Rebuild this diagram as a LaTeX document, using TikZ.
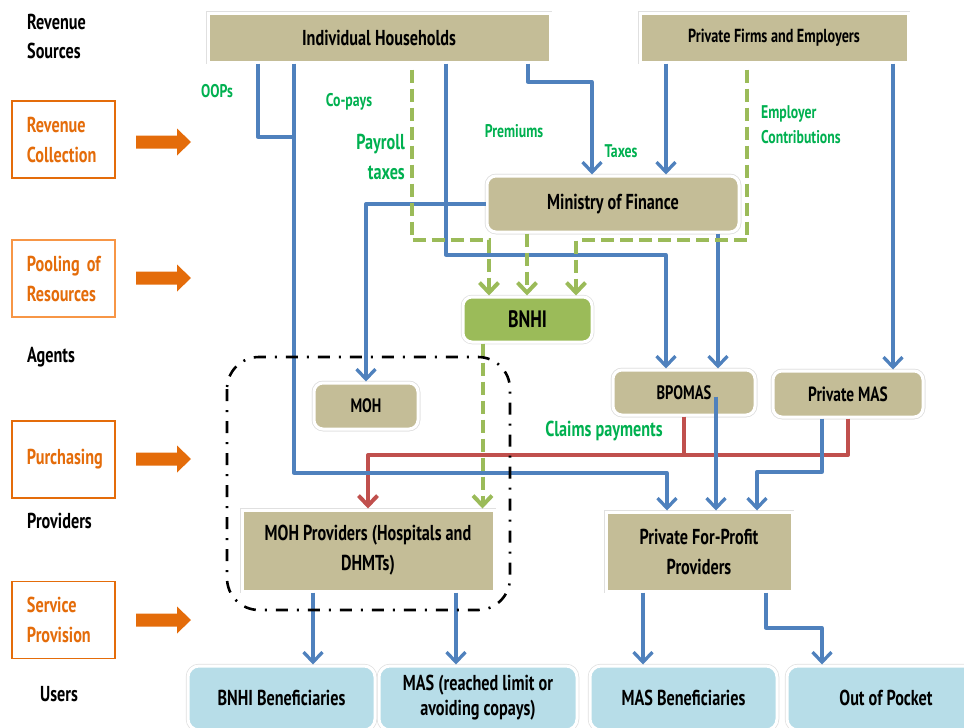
\documentclass[tikz,border=0pt]{standalone}
\usepackage{fontspec}
\setmainfont{PT Sans}[FakeStretch=0.75]
\usetikzlibrary{arrows.meta,calc}
\definecolor{tanc}{HTML}{C4BD97}
\definecolor{bnhig}{HTML}{9BBB59}
\definecolor{lblue}{HTML}{B7DDE8}
\definecolor{oran}{HTML}{E46C0A}
\definecolor{oranl}{HTML}{F79646}
\definecolor{lineblue}{HTML}{4F81BD}
\definecolor{linered}{HTML}{C0504D}
\definecolor{txtgreen}{HTML}{00B050}
\newcommand\fsz[2]{\fontsize{\fpeval{1.08*#1}}{#2}\selectfont\bfseries}
\begin{document}
\begin{tikzpicture}[x=1pt,y=-1pt,
  box/.style={preaction={draw=black!12,line width=4.5pt}, draw=white, line width=3pt,
    inner sep=0pt, align=center, font=\fsz{20}{30}},
  tanbox/.style={box, fill=tanc},
  rbox/.style={box, rounded corners=9pt},
  ubox/.style={box, fill=lblue, rounded corners=11pt, minimum height=64pt, font=\fsz{20}{25}},
  obox/.style={draw=oran, line width=1.5pt, minimum width=103pt, minimum height=77pt,
    text width=73pt, inner xsep=15pt, inner ysep=0pt, align=left, text=oran, font=\fsz{20}{30}},
  lab/.style={inner sep=0pt, align=left, anchor=west, font=\fsz{20}{29}},
  glab/.style={inner sep=0pt, text=txtgreen, font=\fsz{17}{25}},
  bl/.style={draw=lineblue, line width=3.3pt, line join=round},
  rd/.style={draw=linered, line width=4pt, line join=round},
  gd/.style={draw=bnhig, line width=4pt, dash pattern=on 13pt off 6pt},
  arr/.style={-{Straight Barb[length=10pt,width=19pt]}},
  frame/.style={draw=black, line width=2.6pt, dash pattern=on 12pt off 9pt on 2pt off 9pt, rounded corners=32pt}
]
\path[use as bounding box, clip] (0,0) rectangle (964,728);

% left column
\node[lab] (rs) at (27,36.5) {Revenue\\Sources};
\node[obox] (rc) at (63.5,139.5) {Revenue\\Collection};
\node[obox, draw=oranl] (pr) at (63.5,278.5) {Pooling~of\\Resources};
\node[lab] (ag) at (27,357) {Agents};
\node[obox] (pu) at (63.5,459.5) {Purchasing};
\node[lab] (pv) at (27,521) {Providers};
\node[obox] (sp) at (63.5,620) {Service\\Provision};
\node[lab] (us) at (40,694) {Users};
\foreach \y in {142,278,459,620}{
  \fill[oran, shift={(0,\y)}] (136,-6.5) -- (177,-6.5) -- (177,-13.5) -- (191,0)
     -- (177,13.5) -- (177,6.5) -- (136,6.5) -- cycle;
}

% main nodes
\node[tanbox, minimum width=342pt, minimum height=49pt] (hh) at (379,37.5) {Individual Households};
\node[tanbox, minimum width=268pt, minimum height=49pt, font=\fsz{17.5}{25}] (pf) at (774,37.5) {Private Firms and Employers};
\node[tanbox, rbox, minimum width=252pt, minimum height=56pt] (mof) at (613,204) {Ministry of Finance};
\node[rbox, fill=bnhig, minimum width=129pt, minimum height=45pt, font=\fsz{22}{26}] (bnhi) at (527.5,319.5) {BNHI};
\node[tanbox, rbox, minimum width=104pt, minimum height=46pt, font=\fsz{18}{22}] (moh) at (366,406) {MOH};
\node[tanbox, rbox, minimum width=142pt, minimum height=45pt, font=\fsz{18}{22}] (bpomas) at (684,392.5) {BPOMAS};
\node[tanbox, rbox, minimum width=150pt, minimum height=46pt, font=\fsz{19}{22}] (pmas) at (848,394) {Private MAS};
\node[tanbox, minimum width=252pt, minimum height=81pt] (mohp) at (368,550.5) {MOH Providers (Hospitals and\\DHMTs)};
\node[tanbox, minimum width=186pt, minimum height=79pt] (pfp) at (699,551.5) {Private For-Profit\\Providers};
\node[ubox, minimum width=187pt] (ub) at (281.5,698) {BNHI Beneficiaries};
\node[ubox, minimum width=198pt] (um) at (478,698) {MAS (reached limit or\\avoiding copays)};
\node[ubox, minimum width=187pt] (umb) at (683.5,698) {MAS Beneficiaries};
\node[ubox, minimum width=198pt] (uo) at (886,698) {Out of Pocket};

% green labels
\node[glab] (oops) at (217,91) {OOPs};
\node[glab] (copay) at (349,102) {Co-pays};
\node[glab, font=\fsz{20}{30}, align=right, anchor=east] (payroll) at (405,157) {Payroll\\taxes};
\node[glab] (prem) at (514,131) {Premiums};
\node[glab] (taxes) at (621,151) {Taxes};
\node[glab, align=left, anchor=west] (empc) at (761,124.5) {Employer\\Contributions};
\node[glab, font=\fsz{20}{25}] (claims) at (604,431) {Claims payments};

% bend coordinates
\coordinate (k1) at (294,137);
\coordinate (k2) at (667,473);
\coordinate (k3) at (666,255);
\coordinate (k4) at (592,82);
\coordinate (k10) at (757,472);
\coordinate (k14) at (822,628);
\coordinate (kr) at (368,455);
\coordinate (kg1) at (489,240);
\coordinate (kg3) at (576,240);
% start coordinates
\coordinate (s1) at ([xshift=-121pt]hh.south);
\coordinate (s3) at ([xshift=67pt]hh.south);
\coordinate (s4) at ([xshift=149pt]hh.south);
\coordinate (s5) at ([xshift=-108pt]pf.south);
\coordinate (s6) at ([xshift=119pt]pf.south);
\coordinate (s8) at ([xshift=105pt]mof.south);
\coordinate (s9) at ([xshift=32pt,yshift=-4pt]bpomas.center);
\coordinate (s10) at ([xshift=-26pt]pmas.south);
\coordinate (s11) at ([xshift=-55pt]mohp.south);
\coordinate (s12) at ([xshift=88pt]mohp.south);
\coordinate (s13) at ([xshift=-56pt]pfp.south);
\coordinate (s14) at ([xshift=67pt]pfp.south);
\coordinate (g1) at ([xshift=33pt,yshift=-6pt]hh.south);
\coordinate (g2) at ([xshift=-86pt]mof.south);
\coordinate (g3) at ([xshift=-27pt,yshift=-6pt]pf.south);
\coordinate (g4) at ([xshift=-45pt]bnhi.south);

% red connectors
\draw[rd,arr] (pmas.south) |- (kr) -- (mohp.north);
\draw[rd] (bpomas.south) -- (bpomas.south |- kr);

% blue connectors
\draw[bl] (s1) |- (k1);
\draw[bl,arr] (k1 |- hh.south) |- (k2) -- (k2 |- pfp.north);
\draw[bl,arr] (s3) |- (k3) -- (k3 |- bpomas.north);
\draw[bl,arr] (s4) |- (k4) -- (k4 |- mof.north);
\draw[bl,arr] (s5) -- (s5 |- mof.north);
\draw[bl,arr] (s6) -- (s6 |- pmas.north);
\draw[bl,arr] (mof.west) -| (moh.north);
\draw[bl,arr] (s8) -- (s8 |- bpomas.north);
\draw[bl,arr] (s9) -- (s9 |- pfp.north);
\draw[bl,arr] (s10) |- (k10) -- (k10 |- pfp.north);
\draw[bl,arr] (s11) -- (s11 |- ub.north);
\draw[bl,arr] (s12) -- (s12 |- um.north);
\draw[bl,arr] (s13) -- (s13 |- umb.north);
\draw[bl,arr] (s14) |- (k14) -- (k14 |- uo.north);

% green dashed connectors
\draw[gd,arr] (g1) |- (kg1) -- (kg1 |- bnhi.north);
\draw[gd,arr] (g2) -- (g2 |- bnhi.north);
\draw[gd,arr] (g3) |- (kg3) -- (kg3 |- bnhi.north);
\draw[gd,arr] (g4) -- (g4 |- mohp.north);

% dash-dot group frame
\draw[frame] (227,357) rectangle (510,610);
\end{tikzpicture}
\end{document}
